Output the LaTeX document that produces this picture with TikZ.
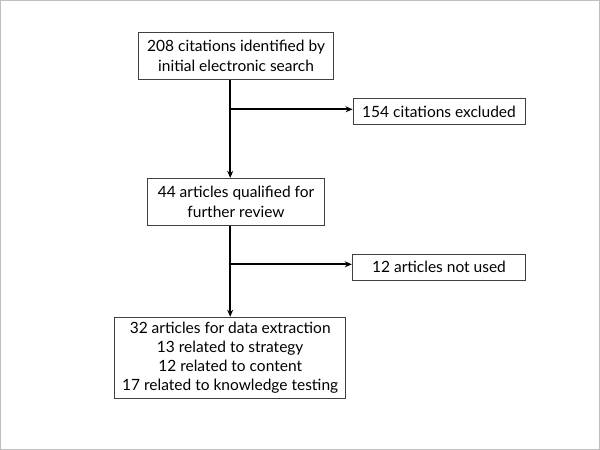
\documentclass[tikz,border=0pt]{standalone}
\usepackage{fontspec}
\setmainfont{Lato}
\usetikzlibrary{arrows.meta}
\begin{document}
\begin{tikzpicture}[x=1pt,y=-1pt,
  box/.style={draw=black!75, line width=0.9pt, inner sep=0pt, align=center,
    font=\fontsize{15.5}{20}\selectfont},
  arr/.style={draw=black, line width=1.8pt, -{Stealth[length=7pt,width=6pt]}},
  ln/.style={draw=black, line width=1.8pt}]
\draw[black!25, line width=1pt] (0.5,0.5) rectangle (599.5,449.5);
\useasboundingbox (0,0) rectangle (600,450);
\node[box, minimum width=195pt, minimum height=47pt] (b1) at (236.1,55.8)
  {208 citations identified by\\initial electronic search};
\node[box, minimum width=172pt, minimum height=26.5pt] (b2) at (439,111.5)
  {154 citations excluded};
\node[box, minimum width=177pt, minimum height=47pt] (b3) at (236,201.8)
  {44 articles qualified for\\further review};
\node[box, minimum width=173.5pt, minimum height=26pt] (b4) at (439,267.3)
  {12 articles not used};
\node[box, minimum width=231pt, minimum height=81pt, font=\fontsize{15.5}{19}\selectfont] (b5) at (230.2,357.7)
  {32 articles for data extraction\\13 related to strategy\\12 related to content\\17 related to knowledge testing};
\coordinate (j1) at (230.2,109.3);
\coordinate (j2) at (230.2,264.3);
\draw[arr] (b1.south -| b5.north) -- (b3.north -| b5.north);
\draw[arr] (j1) -- (j1 -| b2.west);
\draw[arr] (b3.south -| b5.north) -- (b5.north);
\draw[arr] (j2) -- (j2 -| b4.west);
\end{tikzpicture}
\end{document}
